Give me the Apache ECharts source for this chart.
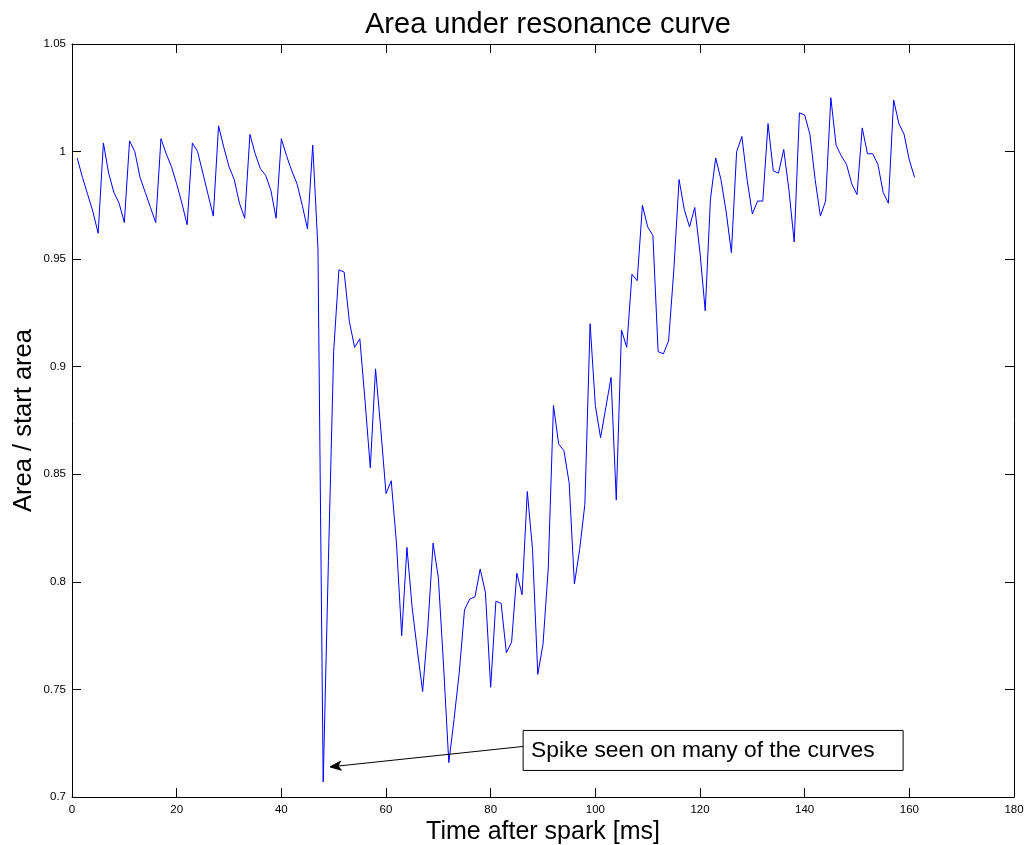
<!DOCTYPE html>
<html>
<head>
<meta charset="utf-8">
<title>Area under resonance curve</title>
<script src="https://cdn.jsdelivr.net/npm/echarts@6/dist/echarts.min.js"></script>
<style>
  html, body { margin: 0; padding: 0; background: #fff; }
  #chart { width: 1028px; height: 845px; }
</style>
</head>
<body>
<div id="chart"></div>
<script>
// Sample times after the spark, in ms (one sample per millisecond)
const timeMs = [];
for (let t = 1; t <= 161; t++) timeMs.push(t);

// Resonance-curve area divided by the area at the start
const areaRatio = [
  0.997, 0.988, 0.980, 0.972, 0.962, 1.004, 0.990, 0.981, 0.976, 0.967,
  1.005, 1.000, 0.988, 0.981, 0.974, 0.967, 1.006, 0.999, 0.993, 0.985,
  0.976, 0.966, 1.004, 1.000, 0.990, 0.980, 0.970, 1.012, 1.002, 0.993,
  0.987, 0.976, 0.969, 1.008, 0.999, 0.992, 0.989, 0.982, 0.969, 1.006,
  0.998, 0.991, 0.985, 0.975, 0.964, 1.003, 0.955, 0.707, 0.810, 0.907,
  0.945, 0.944, 0.921, 0.909, 0.913, 0.884, 0.853, 0.899, 0.871, 0.841,
  0.847, 0.818, 0.775, 0.816, 0.788, 0.768, 0.749, 0.779, 0.818, 0.802,
  0.761, 0.716, 0.736, 0.758, 0.787, 0.792, 0.793, 0.806, 0.795, 0.751,
  0.791, 0.790, 0.767, 0.772, 0.804, 0.794, 0.842, 0.815, 0.757, 0.771,
  0.806, 0.882, 0.864, 0.861, 0.846, 0.799, 0.815, 0.836, 0.920, 0.882,
  0.867, 0.881, 0.895, 0.838, 0.917, 0.909, 0.943, 0.940, 0.975, 0.965,
  0.961, 0.907, 0.906, 0.912, 0.945, 0.987, 0.973, 0.965, 0.974, 0.953,
  0.926, 0.978, 0.997, 0.987, 0.972, 0.953, 1.000, 1.007, 0.987, 0.971,
  0.977, 0.977, 1.013, 0.991, 0.990, 1.001, 0.982, 0.958, 1.018, 1.017,
  1.008, 0.987, 0.970, 0.977, 1.025, 1.003, 0.998, 0.994, 0.985, 0.980,
  1.011, 0.999, 0.999, 0.994, 0.981, 0.976, 1.024, 1.013, 1.008, 0.996,
  0.988
];

// Axis ranges and tick steps
const xTicks = { min: 0, max: 180, step: 20 };
const yTicks = { min: 0.7, max: 1.05, step: 0.05 };

// Callout: arrow tip at the spike, tail at the text box
const calloutText = 'Spike seen on many of the curves';
const calloutTip = [49.3, 0.714];
const calloutTail = [86.2, 0.7235];

const FONT = '"Liberation Sans", Arial, Helvetica, sans-serif';

const chart = echarts.init(document.getElementById('chart'), null, { renderer: 'canvas' });

const axisLineStyle = { lineStyle: { color: '#000', width: 1 }, onZero: false };

function boxAxis(base, pos, showLabel, margin) {
  return Object.assign({}, base, {
    position: pos,
    axisLine: axisLineStyle,
    axisTick: { show: true, inside: true, length: 9, lineStyle: { color: '#000' } },
    axisLabel: { show: showLabel, color: '#000', fontSize: 11.5, fontFamily: FONT, margin: margin },
    splitLine: { show: false }
  });
}

const option = {
  animation: false,
  backgroundColor: '#fff',
  title: {
    text: 'Area under resonance curve',
    left: 543,
    textAlign: 'center',
    top: 5,
    textStyle: { fontFamily: FONT, fontSize: 29, fontWeight: 'normal', color: '#000' }
  },
  grid: { left: 72, top: 44, width: 942, height: 753, containLabel: false, outerBoundsMode: 'none' },
  xAxis: [
    Object.assign(boxAxis({ type: 'value', min: xTicks.min, max: xTicks.max, interval: xTicks.step }, 'bottom', true, 7), {
      name: 'Time after spark [ms]',
      nameLocation: 'middle',
      nameGap: 23,
      nameMoveOverlap: false,
      nameTextStyle: { fontFamily: FONT, fontSize: 25, color: '#000', verticalAlign: 'top' },
    }),
    boxAxis({ type: 'value', min: xTicks.min, max: xTicks.max, interval: xTicks.step }, 'top', false, 7)
  ],
  yAxis: [
    Object.assign(boxAxis({ type: 'value', min: yTicks.min, max: yTicks.max, interval: yTicks.step }, 'left', true, 6), {
      name: 'Area / start area',
      nameLocation: 'middle',
      nameGap: 35,
      nameMoveOverlap: false,
      nameTextStyle: { fontFamily: FONT, fontSize: 25.5, color: '#000' },
    }),
    boxAxis({ type: 'value', min: yTicks.min, max: yTicks.max, interval: yTicks.step }, 'right', false, 6)
  ],
  series: [
    {
      type: 'line',
      data: timeMs.map((t, i) => [t, areaRatio[i]]),
      showSymbol: false,
      symbol: 'none',
      lineStyle: { color: '#0000ff', width: 1 },
      z: 3
    }
  ]
};

chart.setOption(option);

// Callout arrow and text box, placed from the data coordinates of tip and tail
const tip = chart.convertToPixel({ gridIndex: 0 }, calloutTip);
const tail = chart.convertToPixel({ gridIndex: 0 }, calloutTail);
const dx = tail[0] - tip[0], dy = tail[1] - tip[1];
const len = Math.hypot(dx, dy);
const ux = dx / len, uy = dy / len;      // along the shaft, tip -> tail
const nx = -uy, ny = ux;                 // normal
const headLen = 11, headHalf = 4.5, notch = 8;
const head = [
  [tip[0], tip[1]],
  [tip[0] + ux * headLen + nx * headHalf, tip[1] + uy * headLen + ny * headHalf],
  [tip[0] + ux * notch, tip[1] + uy * notch],
  [tip[0] + ux * headLen - nx * headHalf, tip[1] + uy * headLen - ny * headHalf]
];

chart.setOption({
  graphic: [
    {
      type: 'line', z: 10,
      shape: { x1: tail[0], y1: tail[1], x2: tip[0] + ux * 2, y2: tip[1] + uy * 2 },
      style: { stroke: '#000', lineWidth: 1 }
    },
    {
      type: 'polygon', z: 10,
      shape: { points: head },
      style: { fill: '#000', stroke: '#000', lineWidth: 1 }
    },
    {
      type: 'group',
      x: tail[0],
      y: tail[1] - 16,
      z: 11,
      children: [
        { type: 'rect', shape: { x: 0, y: 0, width: 380, height: 40 },
          style: { fill: '#fff', stroke: '#000', lineWidth: 1 } },
        { type: 'text', x: 8, y: 20,
          style: { text: calloutText, fontFamily: FONT, fontSize: 22.8, fill: '#000', verticalAlign: 'middle' } }
      ]
    }
  ]
});
</script>
</body>
</html>
